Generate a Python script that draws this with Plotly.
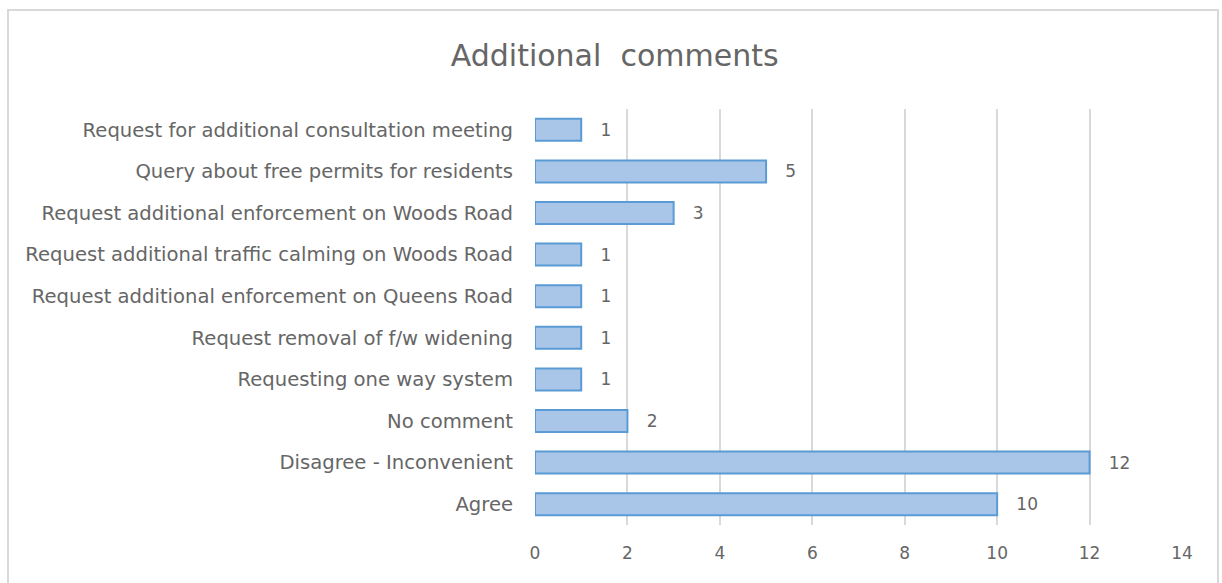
import plotly.graph_objects as go

categories = [
    "Agree",
    "Disagree - Inconvenient",
    "No comment",
    "Requesting one way system",
    "Request removal of f/w widening",
    "Request additional enforcement on Queens Road",
    "Request additional traffic calming on Woods Road",
    "Request additional enforcement on Woods Road",
    "Query about free permits for residents",
    "Request for additional consultation meeting",
]
counts = [10, 12, 2, 1, 1, 1, 1, 3, 5, 1]
x_ticks = [0, 2, 4, 6, 8, 10, 12, 14]

grey = "#666666"
font_family = "DejaVu Sans, sans-serif"

fig = go.Figure()
fig.add_trace(go.Bar(
    x=counts,
    y=categories,
    orientation="h",
    width=0.53,
    marker=dict(color="#a9c6e9", line=dict(color="#5b9bd5", width=2)),
    text=["&nbsp;&nbsp;&nbsp;" + str(v) for v in counts],
    textposition="outside",
    textfont=dict(color=grey, size=17, family=font_family),
    cliponaxis=False,
))

fig.update_layout(
    width=1222,
    height=583,
    margin=dict(l=535, r=40, t=109, b=58),
    paper_bgcolor="white",
    plot_bgcolor="white",
    showlegend=False,
    title=dict(
        text="Additional&nbsp; comments",
        x=0.503, xanchor="center", xref="container",
        y=0.905, yanchor="middle", yref="container",
        font=dict(color=grey, size=30, family=font_family),
    ),
    font=dict(family=font_family, color=grey),
    xaxis=dict(
        range=[0, 14],
        tickvals=x_ticks,
        showgrid=True,
        gridcolor="#d9d9d9",
        gridwidth=2,
        zeroline=False,
        showline=False,
        tickfont=dict(size=17, color=grey),
        ticks="",
        ticklabelstandoff=16,
    ),
    yaxis=dict(
        showgrid=False,
        zeroline=False,
        showline=False,
        ticks="",
        tickfont=dict(size=19.6, color=grey),
        ticklabelstandoff=21,
    ),
    shapes=[dict(
        type="rect", xref="paper", yref="paper",
        x0=-0.8145, x1=1.0556, y0=-0.3, y1=1.238,
        line=dict(color="#d9d9d9", width=2),
        layer="below",
    )],
)

fig.write_html("out.html", config={"displayModeBar": False},
               post_script="document.body.style.margin='0';")
